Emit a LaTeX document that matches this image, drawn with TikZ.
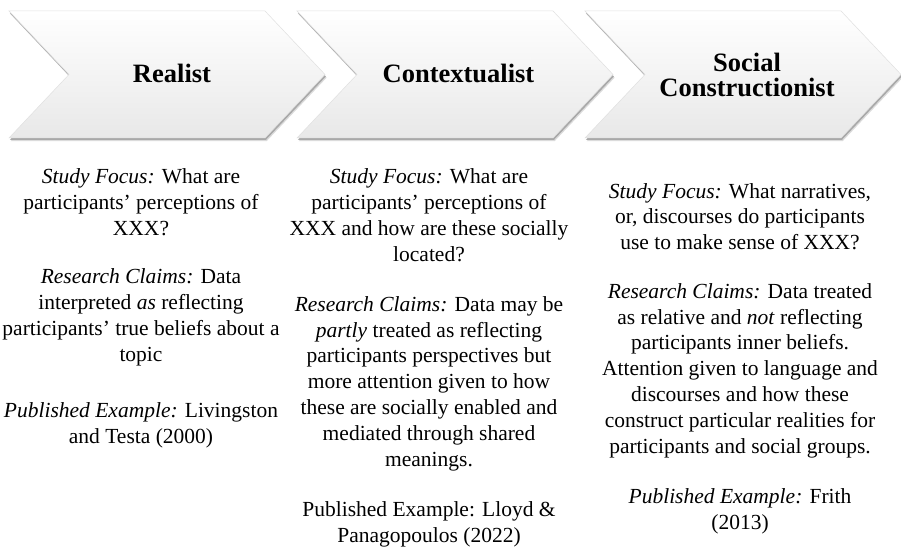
\documentclass[tikz,border=0pt]{standalone}
\usepackage{fontspec}
\setmainfont{LiberationSerif}[Extension=.ttf,UprightFont=*-Regular,BoldFont=*-Bold,ItalicFont=*-Italic,BoldItalicFont=*-BoldItalic]
\begin{document}
\begin{tikzpicture}[x=1pt,y=-1pt,
  chevfill/.style={top color=white,middle color=white,bottom color=black!9,draw=black!12,line width=0.5pt},
  chevshadow/.style={fill=black!34},
  chevhalo/.style={fill=black!14},
  title/.style={font=\fontsize{26.5}{25}\selectfont\bfseries,align=center,inner sep=0pt},
  body/.style={font=\fontsize{21.5}{25.8}\selectfont,align=center,inner sep=0pt}]
  \useasboundingbox (0,0) rectangle (901,548);
  \fill[white] (0,0) rectangle (901,548);
  % three chevrons: left edge, 256 wide body, 60 deep point and notch
  \foreach \L in {9,297,585}{
    \fill[chevhalo] ([shift={(1.6,3.2)}]\L,11) -- ++(256,0) -- ++(60,63.5) -- ++(-60,63.5) -- ++(-256,0) -- ++(60,-63.5) -- cycle;
    \fill[chevshadow] ([shift={(0.8,2)}]\L,11) -- ++(256,0) -- ++(60,63.5) -- ++(-60,63.5) -- ++(-256,0) -- ++(60,-63.5) -- cycle;
    \path[chevfill] (\L,11) -- ++(256,0) -- ++(60,63.5) -- ++(-60,63.5) -- ++(-256,0) -- ++(60,-63.5) -- cycle;
  }
  % chevron titles
  \node[title] (t1) at (172,73.5) {Realist};
  \node[title] (t2) at (458.5,73.5) {Contextualist};
  \node[title] (t3) at (747,75) {Social\\Constructionist};
  % realist column
  \node[body] (c1a) at (141,202) {\textit{Study Focus:} What are\\participants’ perceptions of\\XXX?};
  \node[body] (c1b) at (141,317.5) {\textit{Research Claims:} Data\\interpreted \textit{as} reflecting\\participants’ true beliefs about a\\topic};
  \node[body] (c1c) at (141,425) {\textit{Published Example:} Livingston\\and Testa (2000)};
  % contextualist column
  \node[body] (c2a) at (429,215) {\textit{Study Focus:} What are\\participants’ perceptions of\\XXX and how are these socially\\located?};
  \node[body] (c2b) at (429,383.5) {\textit{Research Claims:} Data may be\\\textit{partly} treated as reflecting\\participants perspectives but\\more attention given to how\\these are socially enabled and\\mediated through shared\\meanings.};
  \node[body] (c2c) at (429,524.5) {Published Example: Lloyd \&\\Panagopoulos (2022)};
  % social constructionist column
  \node[body] (c3a) at (740,216.5) {\textit{Study Focus:} What narratives,\\or, discourses do participants\\use to make sense of XXX?};
  \node[body] (c3b) at (740,370.5) {\textit{Research Claims:} Data treated\\as relative and \textit{not} reflecting\\participants inner beliefs.\\Attention given to language and\\discourses and how these\\construct particular realities for\\participants and social groups.};
  \node[body] (c3c) at (740,511.5) {\textit{Published Example:} Frith\\(2013)};
\end{tikzpicture}
\end{document}
